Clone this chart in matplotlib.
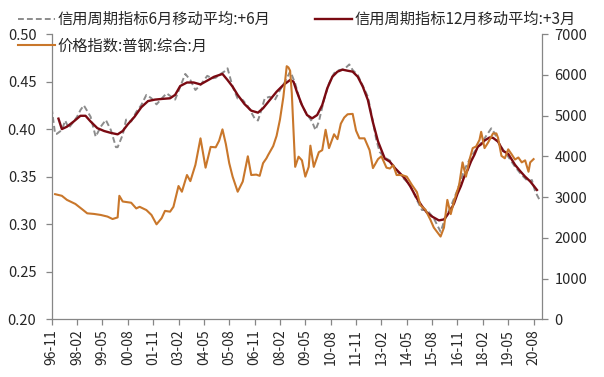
import matplotlib
matplotlib.use('Agg')
import matplotlib.pyplot as plt
import pandas as pd

plt.rcParams['font.family'] = ['Noto Sans CJK SC', 'DejaVu Sans']

# categories: months from 1996-11 to 2021-01 (x index 0 = 1996-11)
months = pd.period_range('1996-11', '2021-01', freq='M')
month_labels = [p.strftime('%y-%m') for p in months]

# 信用周期指标6月移动平均:+6月 (left axis)
credit6_idx = [0, 2, 3, 6, 8, 10, 13, 15, 17, 19, 23, 26, 29, 32, 35, 38, 39, 42, 44, 47,
               50, 53, 56, 59, 62, 66, 68, 73, 76, 79, 82, 85, 88, 92, 95, 97, 99, 102, 104, 107,
               110, 113, 116, 120, 122, 124, 126, 129, 132, 135, 138, 141, 142, 144, 147, 150, 154, 156, 158, 161,
               164, 167, 170, 173, 176, 178, 181, 184, 187, 190, 192, 194, 197, 200, 203, 208, 212, 216, 219, 222,
               226, 230, 232, 236, 240, 244, 248, 252, 256, 260, 262, 265, 270, 274, 278, 282, 284, 286, 289]
credit6_val = [0.422, 0.395, 0.395, 0.399, 0.409, 0.401, 0.408, 0.413, 0.420, 0.425, 0.413, 0.392, 0.4025, 0.4096, 0.399, 0.381, 0.381, 0.394, 0.410, 0.408,
               0.418, 0.4253, 0.436, 0.4324, 0.426, 0.434, 0.4376, 0.431, 0.4446, 0.458, 0.4516, 0.4411, 0.4464, 0.456, 0.4534, 0.454, 0.457, 0.4604, 0.4639, 0.4446,
               0.432, 0.4306, 0.424, 0.4113, 0.409, 0.420, 0.4324, 0.434, 0.4306, 0.441, 0.4499, 0.4604, 0.457, 0.448, 0.4288, 0.4183, 0.4078, 0.399, 0.4078, 0.4306,
               0.448, 0.4587, 0.4621, 0.4629, 0.468, 0.4621, 0.4569, 0.4455, 0.434, 0.4078, 0.3885, 0.376, 0.370, 0.367, 0.3588, 0.3483, 0.3412, 0.3254, 0.3149, 0.3149,
               0.3062, 0.292, 0.3026, 0.3184, 0.336, 0.357, 0.371, 0.381, 0.3903, 0.4008, 0.3956, 0.3833, 0.371, 0.3605, 0.3517, 0.3447, 0.3465, 0.3342, 0.324]

# 信用周期指标12月移动平均:+3月 (left axis)
credit12_idx = [4, 6, 9, 13, 17, 20, 23, 27, 31, 35, 39, 42, 45, 49, 53, 57, 61, 65, 70, 73,
                76, 80, 84, 88, 92, 96, 101, 104, 107, 110, 114, 118, 122, 125, 129, 133, 137, 141, 143, 145,
                148, 151, 154, 157, 160, 163, 166, 169, 172, 175, 178, 181, 184, 187, 190, 193, 195, 197, 200, 203,
                206, 209, 212, 216, 219, 222, 225, 229, 232, 234, 236, 238, 240, 242, 244, 246, 248, 250, 252, 254,
                256, 259, 261, 264, 267, 270, 274, 277, 280, 283, 287]
credit12_val = [0.411, 0.400, 0.4025, 0.408, 0.414, 0.414, 0.408, 0.401, 0.398, 0.396, 0.3945, 0.398, 0.405, 0.413, 0.423, 0.4295, 0.431, 0.4317, 0.4324, 0.436,
                0.4453, 0.449, 0.449, 0.447, 0.451, 0.455, 0.458, 0.4516, 0.4446, 0.4359, 0.4264, 0.4194, 0.4173, 0.4219, 0.4306, 0.4393, 0.4464, 0.4516, 0.4499, 0.4393,
                0.4253, 0.4148, 0.4113, 0.4148, 0.4253, 0.443, 0.4551, 0.4604, 0.4625, 0.4614, 0.4604, 0.4551, 0.4446, 0.4306, 0.407, 0.387, 0.378, 0.369, 0.3657, 0.359,
                0.3535, 0.348, 0.340, 0.327, 0.319, 0.312, 0.308, 0.304, 0.305, 0.3097, 0.3149, 0.322, 0.332, 0.340, 0.350, 0.357, 0.366, 0.373, 0.3815, 0.384,
                0.388, 0.3912, 0.3908, 0.3868, 0.377, 0.374, 0.3625, 0.356, 0.350, 0.345, 0.336]

# 价格指数:普钢:综合:月 (right axis)
steel_idx = [2, 6, 9, 14, 18, 21, 25, 29, 33, 36, 39, 40, 42, 47, 50, 52, 56, 59, 62, 65,
             67, 70, 72, 75, 77, 80, 82, 85, 88, 91, 94, 97, 99, 101, 103, 105, 107, 110, 113, 116,
             118, 121, 123, 125, 127, 128, 131, 133, 135, 137, 139, 140, 141, 142, 144, 146, 148, 150, 152, 153,
             155, 158, 160, 162, 164, 167, 169, 171, 173, 175, 178, 180, 182, 185, 188, 190, 193, 195, 198, 200,
             202, 204, 207, 210, 213, 216, 218, 221, 224, 226, 230, 232, 234, 236, 238, 241, 243, 245, 247, 249,
             251, 253, 254, 256, 258, 261, 263, 264, 266, 268, 270, 272, 274, 276, 278, 280, 282, 283, 285]
steel_val = [3070, 3030, 2930, 2830, 2700, 2600, 2585, 2560, 2520, 2460, 2500, 3030, 2890, 2860, 2720, 2760, 2680, 2560, 2330, 2480,
             2660, 2640, 2760, 3270, 3130, 3540, 3390, 3790, 4440, 3720, 4230, 4220, 4380, 4660, 4300, 3830, 3500, 3130, 3380, 4000,
             3540, 3550, 3520, 3830, 3950, 4030, 4250, 4500, 4900, 5450, 6210, 6180, 6100, 5550, 3740, 3990, 3900, 3500, 3740, 4260,
             3740, 4100, 4150, 4650, 4200, 4540, 4420, 4800, 4950, 5030, 5040, 4630, 4440, 4440, 4150, 3710, 3930, 4000, 3720, 3700,
             3780, 3540, 3540, 3500, 3300, 3120, 2800, 2690, 2440, 2250, 2030, 2250, 2930, 2580, 2900, 3300, 3850, 3500, 3900, 4200,
             4240, 4400, 4600, 4200, 4330, 4560, 4560, 4450, 4010, 3950, 4170, 4050, 3920, 3970, 3850, 3900, 3620, 3850, 3930]

axis_grey = '#868686'
text_col = '#262626'

fig = plt.figure(figsize=(6.04, 3.77), dpi=100)
ax = fig.add_axes([0.0856, 0.1531, 0.8118, 0.7567])
ax2 = ax.twinx()

l1, = ax.plot(credit6_idx, credit6_val, color='#8c8c8c', lw=1.4, ls=(0, (3, 1.6)))
l2, = ax.plot(credit12_idx, credit12_val, color='#7a0a12', lw=1.7)
l3, = ax2.plot(steel_idx, steel_val, color='#c9772b', lw=1.5)

ax.set_xlim(0, len(months) - 1)
ax.set_ylim(0.20, 0.50)
ax.set_yticks([0.20, 0.25, 0.30, 0.35, 0.40, 0.45, 0.50])
ax.set_yticklabels(['%.2f' % v for v in ax.get_yticks()])
ax2.set_ylim(0, 7000)
ax2.set_yticks(range(0, 7001, 1000))

xt = list(range(0, len(months), 15))
ax.set_xticks(xt)
ax.set_xticklabels([month_labels[i] for i in xt], rotation=90)

for a in (ax, ax2):
    for s in a.spines.values():
        s.set_color(axis_grey)
        s.set_linewidth(0.9)
    a.spines['top'].set_visible(False)
ax.spines['right'].set_visible(False)
ax2.spines['left'].set_visible(False)
ax2.spines['bottom'].set_visible(False)

ax.tick_params(axis='y', direction='out', length=4, width=0.9, color=axis_grey,
               labelsize=10.5, labelcolor=text_col, pad=7)
ax.tick_params(axis='x', direction='out', length=4, width=0.9, color=axis_grey,
               labelsize=10, labelcolor=text_col, pad=3)
ax2.tick_params(axis='y', direction='out', length=4, width=0.9, color=axis_grey,
                labelsize=10.5, labelcolor=text_col, pad=5)

fig.legend([l1, l3, l2],
           ['信用周期指标6月移动平均:+6月', '价格指数:普钢:综合:月', '信用周期指标12月移动平均:+3月'],
           ncol=2, loc='upper left', bbox_to_anchor=(18 / 604, 1 - 11 / 377),
           frameon=False, fontsize=11, handlelength=2.4, handletextpad=0.2,
           columnspacing=2.9, labelspacing=0.62, borderpad=0, borderaxespad=0,
           labelcolor=text_col)

fig.savefig('out.png', dpi=100, facecolor='white')
